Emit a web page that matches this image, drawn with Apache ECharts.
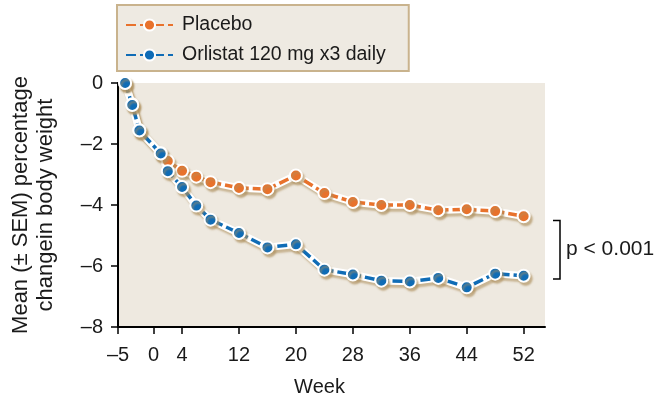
<!DOCTYPE html>
<html><head><meta charset="utf-8">
<script src="https://cdn.jsdelivr.net/npm/echarts@6/dist/echarts.min.js"></script>
<style>html,body{margin:0;padding:0;background:#fff}#c{width:667px;height:404px}</style>
</head><body><div id="c"></div>
<script>
const weeks = [-4, -3, -2, 1, 2, 4, 6, 8, 12, 16, 20, 24, 28, 32, 36, 40, 44, 48, 52];
const placebo = [0, -0.7, -1.55, -2.3, -2.56, -2.88, -3.07, -3.25, -3.44, -3.48, -3.03, -3.61, -3.90, -4.00, -4.00, -4.17, -4.14, -4.20, -4.37];
const orlistat = [0, -0.72, -1.56, -2.31, -2.89, -3.41, -4.02, -4.48, -4.92, -5.39, -5.29, -6.12, -6.28, -6.48, -6.51, -6.39, -6.70, -6.25, -6.32];
const xTickWeeks = [-5, 0, 4, 12, 20, 28, 36, 44, 52];
const seriesNames = ['Placebo', 'Orlistat 120 mg x3 daily'];
const yAxisTitle = 'Mean (± SEM) percentage\nchangein body weight';
const xAxisTitle = 'Week';
const pText = 'p < 0.001';

const FONT = '"Liberation Sans", Arial, Helvetica, sans-serif';
const TXT = '#1a1a1a';
const ORANGE = '#E8722C';
const BLUE = '#0F6CB6';
const SHADOW = 'rgba(175,145,95,0.6)';
const fmt = v => String(v).replace('-', '\u2013');
const pairs = ys => weeks.map((w, i) => [w, ys[i]]);

function halo(data) {
  return {
    type: 'line', data, symbol: 'none', silent: true, z: 2,
    lineStyle: { color: '#fff', width: 7.5, shadowColor: SHADOW, shadowBlur: 2, shadowOffsetX: 2, shadowOffsetY: 3 }
  };
}
function main(name, color, data) {
  return {
    type: 'line', name, data, symbol: 'circle', symbolSize: 12, z: 2,
    lineStyle: { color, width: 3.5, type: [10, 4] },
    itemStyle: { color, borderColor: '#fff', borderWidth: 2, shadowColor: SHADOW, shadowBlur: 2, shadowOffsetX: 2, shadowOffsetY: 3 }
  };
}

const chart = echarts.init(document.getElementById('c'), null, { renderer: 'canvas' });
chart.setOption({
  animation: false,
  textStyle: { fontFamily: FONT },
  grid: { left: 116, right: 122, top: 83, bottom: 77, show: true, backgroundColor: '#EEE9E0', borderWidth: 0 },
  legend: {
    data: seriesNames, orient: 'vertical', left: 117, top: 5,
    padding: [10, 23, 6, 8], itemGap: 10, itemWidth: 47, itemHeight: 14,
    backgroundColor: '#EEEAE2', borderColor: '#C9B38D', borderWidth: 2,
    textStyle: { fontSize: 19.5, color: TXT, fontFamily: FONT, padding: [0, 0, 0, 4] }
  },
  xAxis: {
    type: 'value', min: -5, max: 55,
    name: xAxisTitle, nameLocation: 'middle', nameGap: 50,
    nameTextStyle: { fontSize: 20, color: TXT, fontFamily: FONT, padding: [0, 24, 0, 0] },
    axisLine: { show: true, onZero: false, lineStyle: { color: '#000', width: 2 } },
    axisTick: { show: true, customValues: xTickWeeks, length: 7, lineStyle: { color: '#000', width: 1.5 } },
    axisLabel: { customValues: xTickWeeks, formatter: fmt, fontSize: 20, color: TXT, margin: 18, fontFamily: FONT },
    splitLine: { show: false }
  },
  yAxis: {
    type: 'value', min: -8, max: 0, interval: 2,
    name: yAxisTitle, nameLocation: 'middle', nameGap: 60, nameRotate: 90,
    nameTextStyle: { fontSize: 22, color: TXT, fontFamily: FONT, lineHeight: 25, align: 'center' },
    axisLine: { show: true, onZero: false, lineStyle: { color: '#000', width: 2 } },
    axisTick: { show: true, length: 7, lineStyle: { color: '#000', width: 1.5 } },
    axisLabel: { formatter: fmt, fontSize: 20, color: TXT, margin: 15, fontFamily: FONT },
    splitLine: { show: false }
  },
  series: [
    halo(pairs(placebo)),
    main(seriesNames[0], ORANGE, pairs(placebo)),
    halo(pairs(orlistat)),
    main(seriesNames[1], BLUE, pairs(orlistat))
  ],
  graphic: [
    { type: 'polyline', shape: { points: [[553, 220.5], [560, 220.5], [560, 279], [553, 279]] }, style: { stroke: '#000', lineWidth: 1.5, fill: null } },
    { type: 'text', x: 566, y: 249, style: { text: pText, fontSize: 21, fill: TXT, fontFamily: FONT, verticalAlign: 'middle', align: 'left' } }
  ]
});
</script></body></html>
